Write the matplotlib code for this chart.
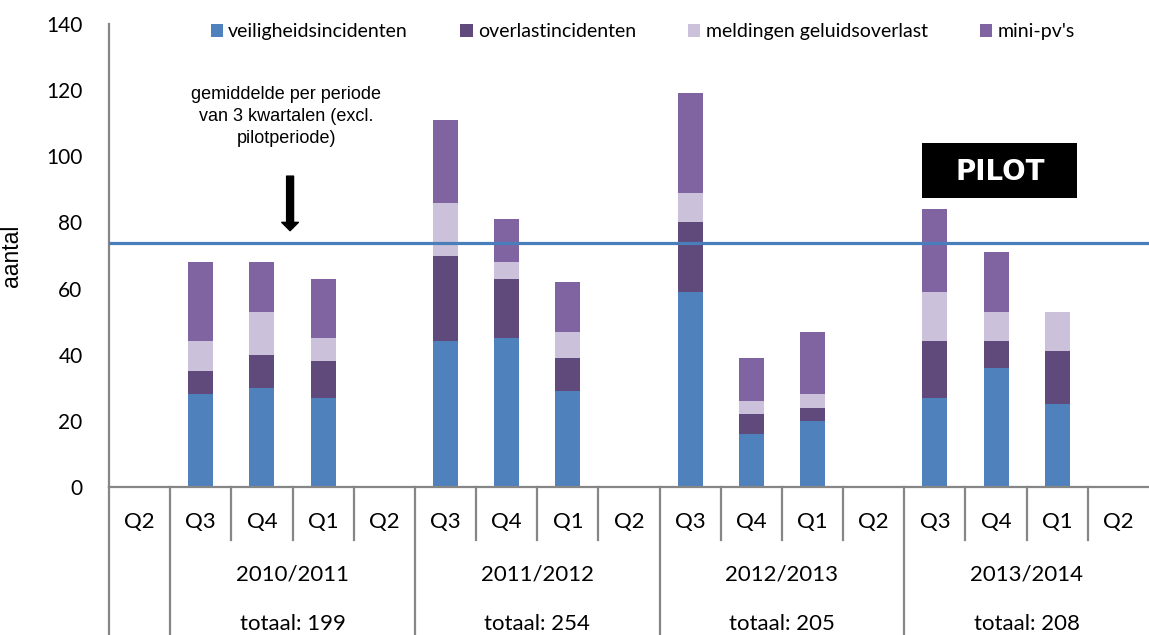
import matplotlib.pyplot as plt
from matplotlib.patches import Rectangle

# === DATA ===
quarters = ['Q2', 'Q3', 'Q4', 'Q1', 'Q2', 'Q3', 'Q4', 'Q1', 'Q2',
            'Q3', 'Q4', 'Q1', 'Q2', 'Q3', 'Q4', 'Q1', 'Q2']
years = ['2010/2011', '2011/2012', '2012/2013', '2013/2014']
totals = [199, 254, 205, 208]
year_start = [1, 5, 9, 13]

veiligheid = [0, 28, 30, 27, 0, 44, 45, 29, 0, 59, 16, 20, 0, 27, 36, 25, 0]
overlast = [0, 7, 10, 11, 0, 26, 18, 10, 0, 21, 6, 4, 0, 17, 8, 16, 0]
geluid = [0, 9, 13, 7, 0, 16, 5, 8, 0, 9, 4, 4, 0, 15, 9, 12, 0]
minipv = [0, 24, 15, 18, 0, 25, 13, 15, 0, 30, 13, 19, 0, 25, 18, 0, 0]
gemiddelde = 73.8

series = [
    ("veiligheidsincidenten", veiligheid, "#4F81BD"),
    ("overlastincidenten", overlast, "#604A7B"),
    ("meldingen geluidsoverlast", geluid, "#CCC1DA"),
    ("mini-pv's", minipv, "#8064A2"),
]

GRID = "#868686"
TICK_FONT = "Lato"

# === PLOT ===
fig = plt.figure(figsize=(11.49, 6.35), dpi=100)
ax = fig.add_axes([109 / 1149, 1 - 487 / 635, 1040 / 1149, 463 / 635])

x = list(range(len(quarters)))
bottom = [0] * len(x)
for label, vals, color in series:
    ax.bar(x, vals, width=0.41, bottom=bottom, color=color, label=label, zorder=2)
    bottom = [b + v for b, v in zip(bottom, vals)]

ax.axhline(gemiddelde, color="#4A7EBB", lw=2.3, zorder=3)

ax.set_xlim(-0.5, len(x) - 0.5)
ax.set_ylim(0, 140)
ax.set_yticks(range(0, 141, 20))
ax.tick_params(axis='y', length=0, pad=19, labelsize=15)
for t in ax.get_yticklabels():
    t.set_fontfamily(TICK_FONT)
ax.set_xticks([])

for s in ['top', 'right']:
    ax.spines[s].set_visible(False)
for s in ['left', 'bottom']:
    ax.spines[s].set_color(GRID)
    ax.spines[s].set_linewidth(1.6)

ax.set_ylabel("aantal", fontsize=16.5, fontfamily="Liberation Sans")
ax.yaxis.set_label_coords(-0.0827, 0.5)

# === multi-level category axis ===
tr = ax.get_xaxis_transform()
group_edges = [s - 0.5 for s in year_start] + [-0.5]
for i in range(len(x)):
    ax.text(i, -0.075, quarters[i], transform=tr, ha='center', va='center',
            fontsize=16, fontfamily=TICK_FONT)
for edge in range(len(x)):
    xe = edge - 0.5
    y_end = -0.32 if xe in group_edges else -0.1145
    ax.plot([xe, xe], [0, y_end], transform=tr, color=GRID, lw=1.6, clip_on=False)
for yr, tot, st in zip(years, totals, year_start):
    ax.text(st + 1.5, -0.19, yr, transform=tr, ha='center', va='center',
            fontsize=16, fontfamily=TICK_FONT)
    ax.text(st + 1.5, -0.296, f"totaal: {tot}", transform=tr, ha='center', va='center',
            fontsize=16, fontfamily=TICK_FONT)

# === legend ===
ax.legend(ncol=4, loc='center left', bbox_to_anchor=(0.098, 0.983), frameon=False,
          handlelength=0.62, handleheight=0.65, handletextpad=0.27,
          columnspacing=2.7, borderpad=0, borderaxespad=0,
          prop={'family': TICK_FONT, 'size': 14})

# === annotation ===
ax.text(2.4, 112, "gemiddelde per periode\nvan 3 kwartalen (excl.\npilotperiode)",
        ha='center', va='center', fontsize=13, fontfamily="Liberation Sans",
        linespacing=1.4)
ax.annotate("", xy=(2.46, 77.5), xytext=(2.46, 94),
            arrowprops=dict(facecolor='black', edgecolor='black', width=5,
                            headwidth=12, headlength=6))

# === PILOT box ===
fig.patches.append(Rectangle((922 / 1149, 1 - 198 / 635), 155 / 1149, 55 / 635,
                             transform=fig.transFigure, facecolor='black',
                             edgecolor='none', zorder=5))
fig.text(1000 / 1149, 1 - 172 / 635, "PILOT", color='white', ha='center', va='center',
         fontsize=20, fontweight='bold', fontfamily="DejaVu Sans", zorder=6)

fig.savefig("out.png", dpi=100)
